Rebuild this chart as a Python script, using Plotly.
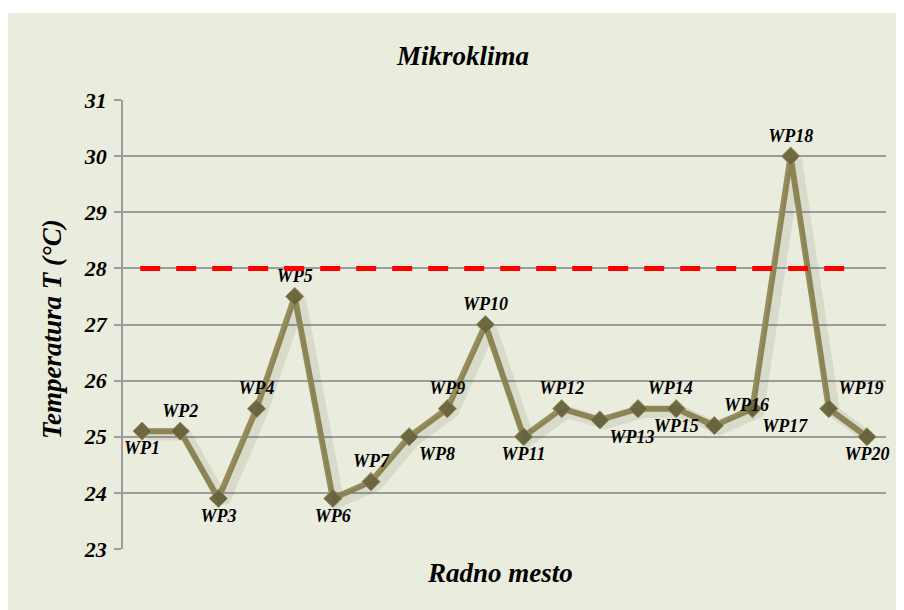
import plotly.graph_objects as go

# ---- data ----
categories = ["WP1", "WP2", "WP3", "WP4", "WP5", "WP6", "WP7", "WP8", "WP9", "WP10",
              "WP11", "WP12", "WP13", "WP14", "WP15", "WP16", "WP17", "WP18", "WP19", "WP20"]
temperatures = [25.1, 25.1, 23.9, 25.5, 27.5, 23.9, 24.2, 25.0, 25.5, 27.0,
                25.0, 25.5, 25.3, 25.5, 25.5, 25.2, 25.5, 30.0, 25.5, 25.0]
limit_value = 28
y_ticks = [23, 24, 25, 26, 27, 28, 29, 30, 31]

title_text = "Mikroklima"
y_title = "Temperatura T (°C)"
x_title = "Radno mesto"

# ---- style ----
label_positions = ["bottom center", "top center", "bottom center", "top center", "top center",
                   "bottom center", "top center", "bottom right", "top center", "top center",
                   "bottom center", "top center", "bottom right", "top right", "bottom center",
                   "top right", "bottom right", "top center", "top right", "bottom center"]

BG = "#EAECDD"
LINE = "#978D5C"
MARK = "#6E6942"
GRID = "#9C9C9C"
SERIF = "Liberation Serif, Times New Roman, serif"

fig = go.Figure()

# soft drop shadow (same data on slightly offset overlay axes)
fig.add_trace(go.Scatter(
    x=categories, y=temperatures, mode="lines",
    line=dict(color="rgba(60,60,40,0.10)", width=12),
    xaxis="x2", yaxis="y2", hoverinfo="skip", showlegend=False,
))

fig.add_trace(go.Scatter(
    x=categories, y=temperatures, mode="lines+markers+text",
    line=dict(color=LINE, width=6),
    marker=dict(symbol="diamond", size=14, color=MARK, line=dict(color="#9A945F", width=1)),
    text=categories, textposition=label_positions,
    textfont=dict(family=SERIF, size=18, color="black", weight="bold", style="italic"),
    cliponaxis=False, showlegend=False,
))

fig.update_layout(
    width=896, height=602,
    margin=dict(l=115, r=18, t=92, b=61),
    paper_bgcolor=BG,
    plot_bgcolor="rgba(0,0,0,0)",
    showlegend=False,
    xaxis=dict(
        type="category", range=[-0.5, 19.5], showticklabels=False,
        showgrid=False, zeroline=False, showline=False, ticks="",
    ),
    yaxis=dict(
        range=[23, 31], tickvals=y_ticks, ticks="outside", ticklen=7, tickwidth=1.5,
        tickcolor=GRID, showgrid=True, gridcolor=GRID, gridwidth=1.5,
        showline=True, linecolor=GRID, linewidth=1.5, zeroline=False,
        tickfont=dict(family=SERIF, size=22, color="black", weight="bold", style="italic"),
        ticklabelstandoff=3,
    ),
    xaxis2=dict(type="category", range=[-0.64, 19.36], overlaying="x", visible=False),
    yaxis2=dict(range=[23.06, 31.06], overlaying="y", visible=False),
    shapes=[
        dict(type="rect", xref="paper", yref="paper", x0=-0.2, x1=1.1,
             y0=1.1938, y1=1.3, fillcolor="white", line=dict(width=0), layer="below"),
        dict(type="line", xref="x", yref="y", x0=-0.05, x1=18.53,
             y0=limit_value, y1=limit_value,
             line=dict(color="#FF0000", width=5, dash="20px,16px"), layer="above"),
    ],
    annotations=[
        dict(text=title_text, xref="paper", yref="paper", x=0.445, y=1.0985,
             xanchor="center", yanchor="middle", showarrow=False,
             font=dict(family=SERIF, size=27, color="black", weight="bold", style="italic")),
        dict(text=y_title, xref="paper", yref="paper", x=-0.093, y=0.49,
             xanchor="center", yanchor="middle", textangle=-90, showarrow=False,
             font=dict(family=SERIF, size=27, color="black", weight="bold", style="italic")),
        dict(text=x_title, xref="paper", yref="paper", x=0.494, y=-0.0535,
             xanchor="center", yanchor="middle", showarrow=False,
             font=dict(family=SERIF, size=27, color="black", weight="bold", style="italic")),
    ],
)

fig.write_html("out.html", post_script="document.body.style.overflow='hidden';")
